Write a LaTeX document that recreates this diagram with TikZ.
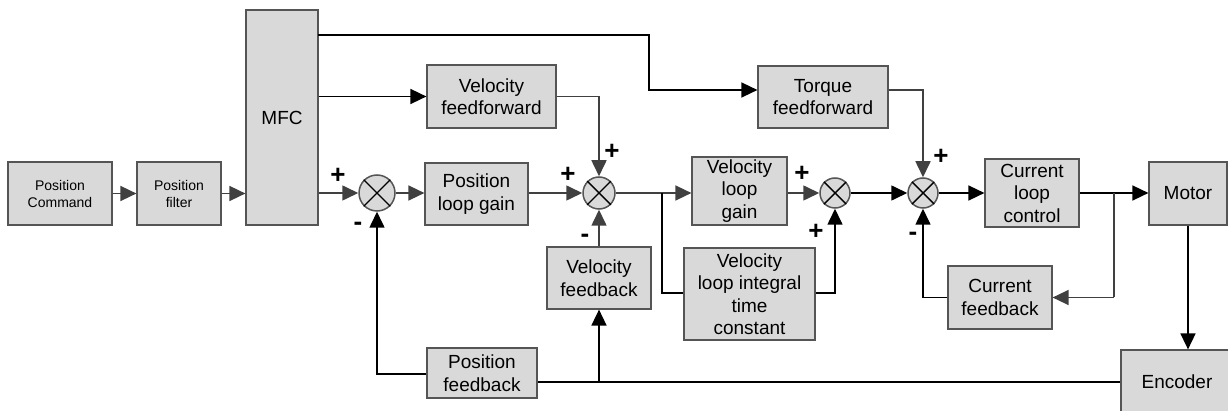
\documentclass[tikz,border=0pt]{standalone}
\usepackage{fontspec}
\setmainfont{Liberation Sans}
\usetikzlibrary{arrows.meta,calc}
\definecolor{boxfill}{HTML}{D9D9D9}
\definecolor{boxline}{HTML}{555555}
\definecolor{gline}{HTML}{404040}
\begin{document}
\begin{tikzpicture}[x=1pt,y=-1pt,
  blk/.style={draw=boxline,fill=boxfill,line width=1.2pt,inner sep=0pt,align=center,
    font=\fontsize{19}{22.5}\selectfont},
  smallblk/.style={blk,font=\fontsize{14}{17}\selectfont},
  sumj/.style={circle,draw=boxline,fill=boxfill,line width=1.5pt,inner sep=0pt},
  ga/.style={draw=gline,line width=1.6pt,-{Triangle[length=16pt,width=15pt]}},
  ba/.style={draw=black,line width=1.6pt,-{Triangle[length=16pt,width=15pt]}},
  gl/.style={draw=gline,line width=1.6pt},
  bl/.style={draw=black,line width=1.6pt},
  sgn/.style={font=\fontsize{26}{26}\bfseries\selectfont,inner sep=0pt}
]
\useasboundingbox (0,0) rectangle (1228,411);

% blocks
\node[smallblk,minimum width=104pt,minimum height=63pt] (poscmd) at (60,193.5) {Position\\Command};
\node[smallblk,minimum width=84pt,minimum height=63pt] (posfil) at (179,193.5) {Position\\filter};
\node[blk,minimum width=72pt,minimum height=215pt] (mfc) at (282,117.5) {MFC};
\node[blk,minimum width=103pt,minimum height=62pt] (poslg) at (476.5,194) {Position\\loop gain};
\node[blk,minimum width=129pt,minimum height=63pt] (velff) at (491.5,96.5) {Velocity\\feedforward};
\node[blk,minimum width=104pt,minimum height=62pt] (velfb) at (599,278) {Velocity\\feedback};
\node[blk,minimum width=110pt,minimum height=50pt] (posfb) at (482,373) {Position\\feedback};
\node[blk,minimum width=95pt,minimum height=68pt] (vlg) at (739.5,191) {Velocity\\loop\\gain};
\node[blk,minimum width=131pt,minimum height=92pt] (vli) at (749.5,294) {Velocity\\loop integral\\time\\constant};
\node[blk,minimum width=130pt,minimum height=62pt] (tff) at (823,97) {Torque\\feedforward};
\node[blk,minimum width=94pt,minimum height=68pt] (clc) at (1032,193) {Current\\loop\\control};
\node[blk,minimum width=78pt,minimum height=63pt] (motor) at (1188,193.5) {Motor};
\node[blk,minimum width=104pt,minimum height=63pt] (cfb) at (1000,297.5) {Current\\feedback};
\node[blk,minimum width=112pt,minimum height=64pt] (enc) at (1177,382) {Encoder};

% summing junctions
\foreach \n/\x/\r in {s1/377/18, s2/599/16, s3/835/15, s4/923/15}{
  \node[sumj,minimum size=2*\r pt] (\n) at (\x,193) {};
  \draw[black,line width=1.4pt] (\n.north west) -- (\n.south east) (\n.north east) -- (\n.south west);
}

% coordinates for branch points
\coordinate (mfcTop) at (318,35);
\coordinate (bendA) at (649,35);
\coordinate (bendB) at (649,90);
\coordinate (brV) at (662,193);
\coordinate (brC) at (1114,193);
\coordinate (brP) at (599,382);

% forward path
\draw[ga] (poscmd.east) -- (posfil.west);
\draw[ga] (posfil.east) -- (mfc.west |- posfil.east);
\draw[ga] (mfc.east |- s1.west) -- (s1.west);
\draw[ga] (s1.east) -- (poslg.west |- s1.east);
\draw[ga] (poslg.east |- s2.west) -- (s2.west);
\draw[ba] (mfc.east |- velff.west) -- (velff.west);
\draw[ba] (mfcTop) -- (bendA) -- (bendB) -- (tff.west |- bendB);
\draw[ga] (velff.east) -| (s2.north);
\draw[ga] (s2.south |- velfb.north) -- (s2.south);
\draw[ga] (s2.east) -- (vlg.west |- s2.east);
\draw[bl] (brV) |- (vli.west |- 0,293);
\draw[ga] (vlg.east |- s3.west) -- (s3.west);
\draw[ba] (vli.east |- 0,293) -| (s3.south);
\draw[ba] (s3.east) -- (s4.west);
\draw[ga] (tff.east |- bendB) -| (s4.north);
\draw[ba] (s4.east) -- (clc.west |- s4.east);
\draw[ba] (clc.east |- s4.east) -- (motor.west |- s4.east);
\draw[gl] (brC) |- (1114,297.5);
\draw[ga] (1114,297.5) -- (cfb.east);
\draw[ba] (cfb.west) -| (s4.south);
\draw[ba] (motor.south) -- (motor.south |- enc.north);
\draw[bl] (enc.west) -- (posfb.east |- enc.west);
\draw[ba] (brP) -- (velfb.south);
\draw[ba] (posfb.west |- 0,374) -| (s1.south);

% signs
\node[sgn] (p1) at (338,176) {+};
\node[sgn] (m1) at (358,226) {-};
\node[sgn] (p2) at (568,175) {+};
\node[sgn] (p3) at (612,152) {+};
\node[sgn] (m2) at (585,238) {-};
\node[sgn] (p4) at (802,174) {+};
\node[sgn] (p5) at (816,232) {+};
\node[sgn] (p6) at (941,157) {+};
\node[sgn] (m3) at (913,236) {-};
\end{tikzpicture}
\end{document}
